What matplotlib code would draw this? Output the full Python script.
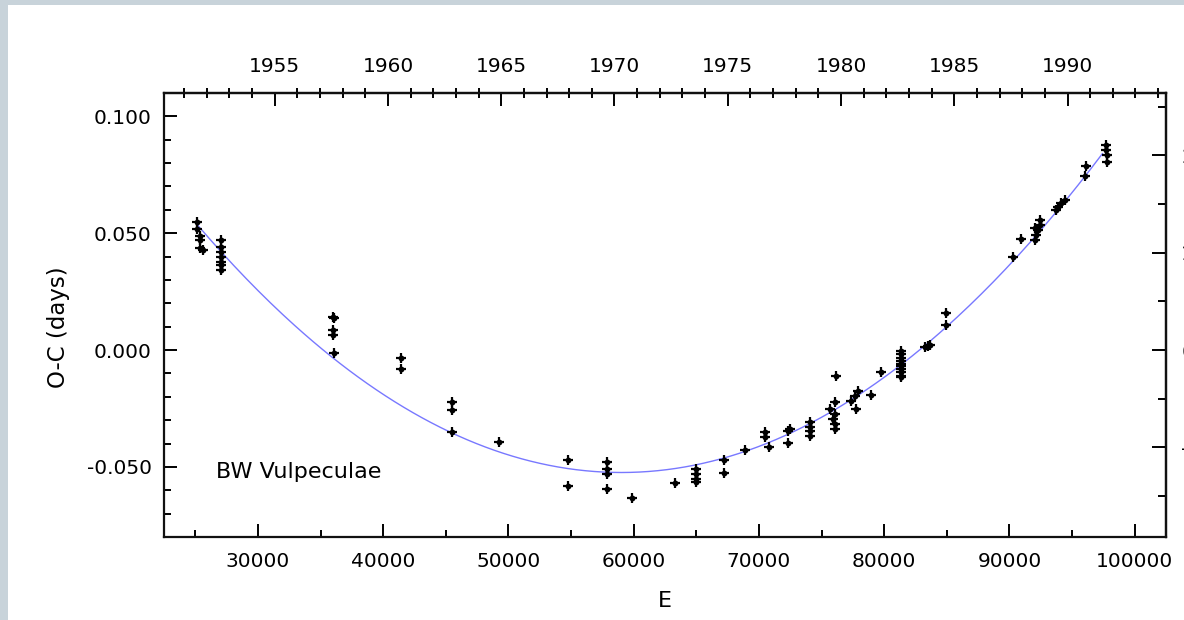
import numpy as np
import matplotlib
matplotlib.use("Agg")
import matplotlib.pyplot as plt
from matplotlib.patches import Rectangle
from matplotlib.ticker import MultipleLocator, FixedLocator

# ---- data: cycle number E and O-C residual (days) ----
E = [25130, 25130, 25370, 25370, 25370, 25600,
     27040, 27040, 27040, 27040, 27040, 27040, 27040,
     35960, 36110, 35960, 35960, 36110,
     41450, 41450,
     45510, 45510, 45510,
     49250,
     54750, 54750,
     57850, 57850, 57850, 57850,
     59840,
     63270,
     64940, 64940, 64940, 64940,
     67250, 67250,
     68920,
     70510, 70510, 70830,
     72340, 72500, 72340,
     74090, 74090, 74090, 74090,
     75690, 76080, 76080, 76080, 76080, 75930, 76160,
     77360, 77680, 77920, 77760,
     78950,
     79750,
     81340, 81340, 81340, 81340, 81340, 81340, 81340, 81340, 81340, 81340,
     83250, 83490, 83650,
     84920, 84920,
     90260,
     90890,
     92010, 92090, 92250, 92410, 92410, 92010,
     93680, 93840, 94080, 94400,
     96010, 96090,
     97680, 97680, 97760, 97760]
OC = [0.0548, 0.0518, 0.0488, 0.0471, 0.0437, 0.0428,
      0.0471, 0.0441, 0.0420, 0.0399, 0.0377, 0.0365, 0.0343,
      0.0142, 0.0139, 0.0087, 0.0066, -0.0011,
      -0.0032, -0.0079,
      -0.0224, -0.0258, -0.0352,
      -0.0394,
      -0.0471, -0.0582,
      -0.0480, -0.0509, -0.0531, -0.0595,
      -0.0633,
      -0.0569,
      -0.0509, -0.0531, -0.0552, -0.0565,
      -0.0471, -0.0526,
      -0.0428,
      -0.0352, -0.0373, -0.0416,
      -0.0347, -0.0339, -0.0399,
      -0.0309, -0.0330, -0.0347, -0.0369,
      -0.0254, -0.0224, -0.0275, -0.0318, -0.0339, -0.0296, -0.0109,
      -0.0220, -0.0198, -0.0177, -0.0254,
      -0.0194,
      -0.0096,
      -0.0006, -0.0019, -0.0032, -0.0045, -0.0058, -0.0070, -0.0083, -0.0096, -0.0109, -0.0117,
      0.0015, 0.0019, 0.0023,
      0.0160, 0.0109,
      0.0399,
      0.0475,
      0.0471, 0.0492, 0.0514, 0.0535, 0.0556, 0.0522,
      0.0599, 0.0612, 0.0629, 0.0642,
      0.0746, 0.0789,
      0.0876, 0.0854, 0.0833, 0.0803]

# quadratic ephemeris fit: OC = fit_c0 + fit_a * (E - fit_E0)^2, drawn over fit range
fit_E0 = 59015.0
fit_c0 = -0.0524
fit_a = 9.25e-11
fit_range = [25200, 97420]

# top axis (calendar year) conversion
year_ref = 1955.0
E_at_year_ref = 31340.0
cycles_per_year = 1808.5

x_ticks = [30000, 40000, 50000, 60000, 70000, 80000, 90000, 100000]
y_ticks = [-0.050, 0.000, 0.050, 0.100]
y_ticklabels = ["-0.050", "0.000", "0.050", "0.100"]
year_ticks = [1955, 1960, 1965, 1970, 1975, 1980, 1985, 1990]
hour_ticks = [-1, 0, 1, 2]
hour_labels = ["-1", "0", "1", "2"]

# ---- figure ----
W, H = 1184, 620
fig = plt.figure(figsize=(W / 100, H / 100), dpi=100)
fig.patch.set_facecolor("white")
band = "#c8d3da"
fig.patches.append(Rectangle((0, 1 - 5 / H), 1, 5 / H, transform=fig.transFigure,
                             facecolor=band, edgecolor="none", zorder=-10))
fig.patches.append(Rectangle((0, 0), 8 / W, 1, transform=fig.transFigure,
                             facecolor=band, edgecolor="none", zorder=-10))

L, R, T, B = 164, 1166, 93, 537
ax = fig.add_axes([L / W, 1 - B / H, (R - L) / W, (B - T) / H])

fs = 14.5
tick_col = "#111111"

xf = np.linspace(fit_range[0], fit_range[1], 300)
ax.plot(xf, fit_c0 + fit_a * (xf - fit_E0) ** 2, color="#7878ff", lw=1.0, zorder=2)
# blurred star-like markers: a small dot with a bold plus on top
ax.plot(E, OC, linestyle="none", marker="o", markersize=4.2, color="black",
        markeredgewidth=0, zorder=3)
ax.plot(E, OC, linestyle="none", marker="+", markersize=6.5, color="black",
        markeredgewidth=1.6, zorder=3)

ax.set_xlim(22500, 102500)
ax.set_ylim(-0.08, 0.11)

ax.xaxis.set_major_locator(FixedLocator(x_ticks))
ax.xaxis.set_minor_locator(MultipleLocator(5000))
ax.set_yticks(y_ticks)
ax.set_yticklabels(y_ticklabels)
ax.yaxis.set_minor_locator(MultipleLocator(0.01))

for s in ax.spines.values():
    s.set_linewidth(1.6)
    s.set_color(tick_col)

ax.tick_params(axis="x", which="major", direction="in", length=9.5, width=1.4,
               labelsize=fs, pad=11, bottom=True, top=False)
ax.tick_params(axis="x", which="minor", direction="in", length=5, width=1.4,
               bottom=True, top=False)
ax.tick_params(axis="y", which="major", direction="in", length=9.5, width=1.4,
               labelsize=fs, pad=9, left=True, right=False)
ax.tick_params(axis="y", which="minor", direction="in", length=5, width=1.4,
               left=True, right=False)

ax.set_ylabel("O-C (days)", fontsize=16.5)
ax.yaxis.set_label_coords((70 - L) / (R - L), (B - 327) / (B - T))
ax.set_xlabel("E", fontsize=16)
ax.xaxis.set_label_coords((665 - L) / (R - L), (B - 591) / (B - T))

ax.text((216 - L) / (R - L), (B - 472) / (B - T), "BW Vulpeculae",
        transform=ax.transAxes, fontsize=16, va="center", ha="left")

# top axis: calendar year
def e2y(e):
    return year_ref + (np.asarray(e) - E_at_year_ref) / cycles_per_year

def y2e(y):
    return E_at_year_ref + (np.asarray(y) - year_ref) * cycles_per_year

top = ax.secondary_xaxis("top", functions=(e2y, y2e))
top.xaxis.set_major_locator(FixedLocator(year_ticks))
top.xaxis.set_minor_locator(MultipleLocator(1))
top.tick_params(which="major", direction="in", length=9, width=1.4, labelsize=fs, pad=12)
top.tick_params(which="minor", direction="inout", length=7, width=1.4)
top.spines["top"].set_linewidth(1.6)

# right axis: O-C in hours (labels fall at the figure edge, as in the reference)
def d2h(d):
    return np.asarray(d) * 24.0

def h2d(h):
    return np.asarray(h) / 24.0

right = ax.secondary_yaxis("right", functions=(d2h, h2d))
right.yaxis.set_major_locator(FixedLocator(hour_ticks))
right.yaxis.set_minor_locator(MultipleLocator(0.5))
right.tick_params(which="major", direction="in", length=10, width=1.4, labelsize=fs, pad=11)
right.tick_params(which="minor", direction="in", length=6, width=1.4)
right.set_yticklabels(hour_labels)
right.spines["right"].set_linewidth(1.6)

fig.savefig("out.png", dpi=100, facecolor="white")
